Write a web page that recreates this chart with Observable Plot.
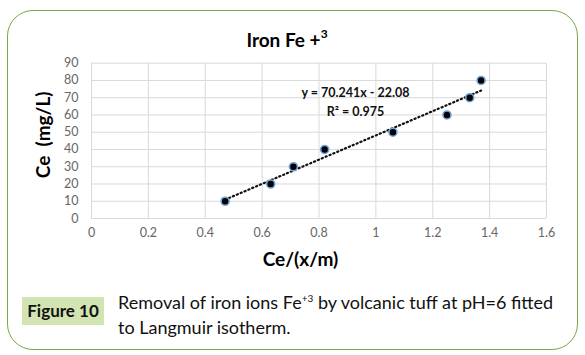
<!DOCTYPE html>
<html>
<head>
<meta charset="utf-8">
<script src="https://cdn.jsdelivr.net/npm/d3@7"></script>
<script src="https://cdn.jsdelivr.net/npm/@observablehq/plot@0.6"></script>
<style>
  html, body { margin: 0; padding: 0; background: #fff; }
  #wrap { position: relative; width: 585px; height: 355px; overflow: hidden; font-family: Lato, "Open Sans", sans-serif; }
  #frame { position: absolute; left: 7px; top: 10px; width: 569px; height: 338px; border: 1.5px solid #78a848; border-radius: 26px; }
  #chart { position: absolute; left: 0; top: 0; }
  #title { position: absolute; left: 0; width: 574px; top: 28px; text-align: center; font-weight: bold; font-size: 19px; color: #000; }
  #title sup { font-size: 12px; position: relative; top: -2px; }
  #figlabel { position: absolute; left: 22px; top: 297px; width: 82px; height: 28px; background: #d3e4b3; font-weight: bold; font-size: 17px; line-height: 28px; text-align: center; color: #111; }
  #captext { position: absolute; left: 118px; top: 290px; width: 448px; font-size: 18px; line-height: 25px; color: #111; }
  #captext sup { font-size: 10px; line-height: 0; }
</style>
</head>
<body>
<div id="wrap">
  <div id="frame"></div>
  <div id="chart"></div>
  <div id="title">Iron Fe +<sup>3</sup></div>
  <div id="figlabel">Figure 10</div>
  <div id="captext">Removal of iron ions Fe<sup>+3</sup> by volcanic tuff at pH=6 fitted<br>to Langmuir isotherm.</div>
</div>
<script>
const ceRatio = [0.47, 0.63, 0.71, 0.82, 1.06, 1.25, 1.33, 1.37];
const ceValues = [10, 20, 30, 40, 50, 60, 70, 80];
const xTicks = [0, 0.2, 0.4, 0.6, 0.8, 1, 1.2, 1.4, 1.6];
const yTicks = [0, 10, 20, 30, 40, 50, 60, 70, 80, 90];
const slope = 70.241;
const intercept = -22.08;
const equationText = "y = 70.241x - 22.08";
const r2Text = "R² = 0.975";
const xLabel = "Ce/(x/m)";
const yLabel = "Ce  (mg/L)";

const points = ceRatio.map((x, i) => ({x, y: ceValues[i]}));
const xMin = d3.min(ceRatio), xMax = d3.max(ceRatio);
const trend = [xMin, xMax].map(x => ({x, y: slope * x + intercept}));
const fmt = d => String(d);

const chart = Plot.plot({
  width: 585,
  height: 280,
  marginLeft: 91,
  marginRight: 39,
  marginTop: 62.7,
  marginBottom: 62,
  style: {fontFamily: "Lato, 'Open Sans', sans-serif", background: "transparent"},
  x: {domain: [0, 1.6]},
  y: {domain: [0, 90]},
  marks: [
    Plot.gridX(xTicks, {stroke: "#d9d9d9", strokeOpacity: 1}),
    Plot.gridY(yTicks, {stroke: "#d9d9d9", strokeOpacity: 1}),
    Plot.axisX(xTicks, {tickSize: 0, tickPadding: 10, tickFormat: fmt, fill: "#666", fontSize: 12.5, label: null}),
    Plot.axisY(yTicks, {tickSize: 0, tickPadding: 13, tickFormat: fmt, fill: "#666", fontSize: 12.5, label: null}),
    Plot.line(trend, {x: "x", y: "y", stroke: "#111", strokeWidth: 2.2, strokeDasharray: "1.2 3", strokeLinecap: "round"}),
    Plot.dot(points, {x: "x", y: "y", r: 4, fill: "#000", stroke: "#6ea6db", strokeWidth: 1.6}),
    Plot.text([equationText], {frameAnchor: "top-left", dx: 264, dy: 25, fontSize: 12.5, fontWeight: "bold", fill: "#111", textAnchor: "middle"}),
    Plot.text([r2Text], {frameAnchor: "top-left", dx: 264, dy: 43.5, fontSize: 12.5, fontWeight: "bold", fill: "#111", textAnchor: "middle"}),
    Plot.text([xLabel], {frameAnchor: "bottom-left", dx: 209, dy: 47, fontSize: 19, fontWeight: "bold", fill: "#000", textAnchor: "middle"}),
    Plot.text([yLabel], {frameAnchor: "left", dx: -48, dy: -6, rotate: -90, fontSize: 19, fontWeight: "bold", fill: "#000", textAnchor: "middle"})
  ]
});
document.getElementById("chart").appendChild(chart);
</script>
</body>
</html>
